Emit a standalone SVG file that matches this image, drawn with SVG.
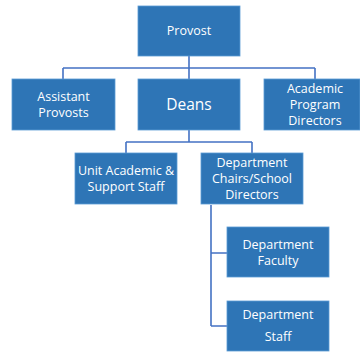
<svg xmlns="http://www.w3.org/2000/svg" width="360" height="352" viewBox="0 0 360 352">
<style>
.box{fill:#2E75B6;stroke:#5B9BD5;stroke-width:0.8}
.t{fill:#fff;font-family:"Open Sans","Liberation Sans",sans-serif;font-size:12.5px;text-anchor:middle}
.big{font-size:15.5px}
.c{fill:none;stroke:#4472C4;stroke-width:1.6}
</style>
<rect width="360" height="352" fill="#fff"/>
<g id="connectors">
<path class="c" d="M189 56V68M63 68H315M63 68V79M189 68V79M315 68V79"/>
<path class="c" d="M189 130V142M126 142H252M126 142V153M252 142V153"/>
<path class="c" d="M211 205V326M211 253H227M211 326H227"/>
</g>
<g id="provost"><rect class="box" x="138" y="6" width="102" height="50"/><text class="t" x="189" y="35">Provost</text></g>
<g id="assistant"><rect class="box" x="12" y="79" width="103" height="51"/><text class="t" x="63.5" y="101">Assistant</text><text class="t" x="63.5" y="117">Provosts</text></g>
<g id="deans"><rect class="box" x="138" y="79" width="102" height="51"/><text class="t big" x="189" y="110">Deans</text></g>
<g id="academic"><rect class="box" x="264" y="79" width="96" height="51"/><text class="t" x="315" y="93">Academic</text><text class="t" x="315" y="109">Program</text><text class="t" x="315" y="125">Directors</text></g>
<g id="unit"><rect class="box" x="75" y="153" width="102" height="51"/><text class="t" x="126" y="175">Unit Academic &amp;</text><text class="t" x="126" y="191">Support Staff</text></g>
<g id="chairs"><rect class="box" x="201" y="153" width="102" height="51"/><text class="t" x="252" y="167">Department</text><text class="t" x="252" y="183">Chairs/School</text><text class="t" x="252" y="199">Directors</text></g>
<g id="faculty"><rect class="box" x="227" y="227" width="102" height="50"/><text class="t" x="278" y="249">Department</text><text class="t" x="278" y="265">Faculty</text></g>
<g id="staff"><rect class="box" x="227" y="301" width="102" height="50"/><text class="t" x="278" y="319">Department</text><text class="t" x="278" y="341">Staff</text></g>
</svg>
